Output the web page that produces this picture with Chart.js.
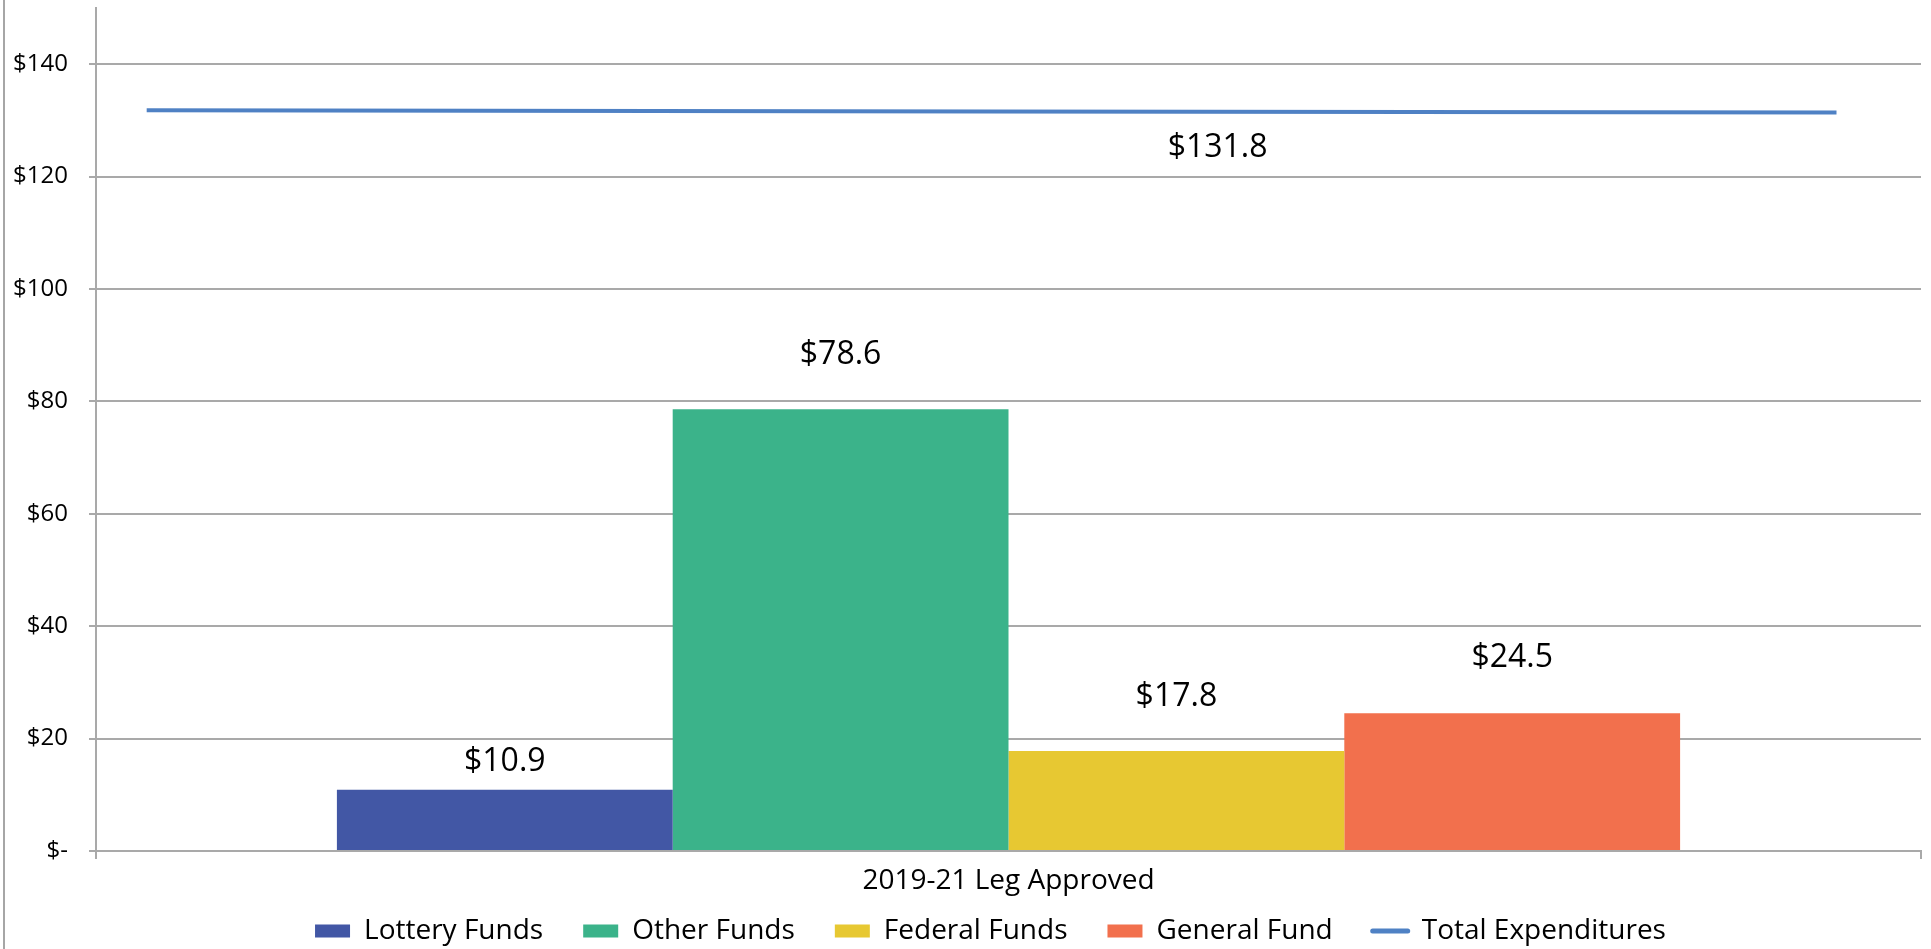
<!DOCTYPE html>
<html>
<head>
<meta charset="utf-8">
<title>2019-21 Leg Approved</title>
<script src="https://cdn.jsdelivr.net/npm/chart.js@4.4.1/dist/chart.umd.min.js"></script>
<style>
    html, body { margin: 0; padding: 0; background: #ffffff; }
    #wrap { position: relative; width: 1931px; height: 949px; overflow: hidden; }
    #frame { position: absolute; left: 3px; top: 0; width: 2px; height: 949px; background: #a6a6a6; }
    #fundChart { position: absolute; left: 0; top: 6px; }
</style>
</head>
<body>
<div id="wrap">
    <div id="frame"></div>
    <canvas id="fundChart" width="1931" height="949"></canvas>
</div>
<script>
const categories = ['2019-21 Leg Approved'];
const fundNames = ['Lottery Funds', 'Other Funds', 'Federal Funds', 'General Fund'];
const fundValues = [10.9, 78.6, 17.8, 24.5];
const fundColors = ['#4257a5', '#3bb38a', '#e7c832', '#f2704d'];

const totalName = 'Total Expenditures';
const totalSteps = [0, 1, 2];
const totalValues = [131.8, 131.6, 131.4];
const totalColor = '#4f81c4';

const yTicks = [0, 20, 40, 60, 80, 100, 120, 140];

const gridColor = '#a9a9a9';
const fontFamily = '"Open Sans", "DejaVu Sans", sans-serif';

function money(v) {
    return v === 0 ? '$-' : '$' + v;
}

// value labels drawn on top of the bars and next to the total line
const valueLabels = {
    id: 'valueLabels',
    afterDatasetsDraw(chart, args, opts) {
        const ctx = chart.ctx;
        ctx.save();
        ctx.font = opts.size + 'px ' + fontFamily;
        ctx.textAlign = 'center';
        ctx.textBaseline = 'middle';
        chart.data.datasets.forEach((ds, i) => {
            const meta = chart.getDatasetMeta(i);
            if (ds.type === 'line') {
                const el = meta.data[1];
                const text = '$' + ds.data[0].y.toFixed(1);
                ctx.fillStyle = '#000';
                ctx.fillText(text, el.x + opts.lineDx, el.y + opts.lineDy);
                return;
            }
            const el = meta.data[0];
            const text = '$' + ds.data[0].toFixed(1);
            const x = el.x;
            const y = el.y - opts.barOffsets[i];
            const w = ctx.measureText(text).width + 12;
            ctx.fillStyle = '#ffffff';
            ctx.fillRect(x - w / 2, y - 20, w, 40);
            ctx.fillStyle = '#000';
            ctx.fillText(text, x, y);
        });
        ctx.restore();
    }
};

const datasets = fundNames.map((name, i) => ({
    type: 'bar',
    indexAxis: 'x',
    label: name,
    data: [fundValues[i]],
    backgroundColor: fundColors[i],
    borderWidth: 0,
    barPercentage: 1,
    categoryPercentage: 0.736,
    xAxisID: 'x',
    yAxisID: 'y',
    order: 2
}));

datasets.push({
    type: 'line',
    indexAxis: 'x',
    label: totalName,
    data: totalSteps.map((s, i) => ({ x: s, y: totalValues[i] })),
    borderColor: totalColor,
    backgroundColor: totalColor,
    borderWidth: 4,
    pointRadius: 0,
    tension: 0,
    xAxisID: 'x2',
    yAxisID: 'y',
    order: 1
});

// tick labels may sit outside their scale box
const noLabelClip = scale => {
    scale._computeLabelArea = () => undefined;
};

// chart-level indexAxis 'y' keeps the line's own x scale out of the bar grouping count;
// every dataset sets indexAxis 'x' itself, so the bars stay vertical
new Chart(document.getElementById('fundChart'), {
    type: 'bar',
    data: {
        labels: categories,
        datasets: datasets
    },
    plugins: [valueLabels],
    options: {
        indexAxis: 'y',
        responsive: false,
        animation: false,
        layout: {
            padding: { left: 60, right: 10, top: 2, bottom: 0 }
        },
        scales: {
            x: {
                type: 'category',
                position: 'bottom',
                offset: true,
                afterFit: scale => {
                    scale.height = 26;
                    noLabelClip(scale);
                },
                border: { display: true, color: gridColor, width: 2 },
                grid: {
                    display: true,
                    offset: true,
                    drawOnChartArea: false,
                    color: gridColor,
                    lineWidth: 2,
                    tickLength: 8
                },
                ticks: {
                    color: '#000',
                    padding: 5,
                    font: { family: fontFamily, size: 28 }
                }
            },
            x2: {
                type: 'linear',
                position: 'bottom',
                display: false,
                offset: false,
                min: -0.06,
                max: 2.1
            },
            y: {
                type: 'linear',
                position: 'left',
                offset: false,
                min: 0,
                max: 150,
                afterBuildTicks: scale => {
                    scale.ticks = yTicks.map(v => ({ value: v }));
                },
                afterFit: scale => {
                    scale.width = 36;
                    scale.paddingTop = 0;
                    scale.paddingBottom = 0;
                    noLabelClip(scale);
                },
                border: { display: true, color: gridColor, width: 2 },
                grid: {
                    offset: false,
                    color: gridColor,
                    lineWidth: 2,
                    tickLength: 7
                },
                ticks: {
                    color: '#000',
                    padding: 21,
                    font: { family: fontFamily, size: 24 },
                    callback: value => money(value)
                }
            }
        },
        plugins: {
            legend: {
                position: 'bottom',
                labels: {
                    usePointStyle: true,
                    pointStyleWidth: 35,
                    boxWidth: 35,
                    boxHeight: 13,
                    padding: 40,
                    color: '#000',
                    font: { family: fontFamily, size: 28 },
                    generateLabels: chart => chart.data.datasets.map((ds, i) => {
                        const isLine = ds.type === 'line';
                        return {
                            text: ds.label,
                            fillStyle: isLine ? ds.borderColor : ds.backgroundColor,
                            strokeStyle: isLine ? ds.borderColor : ds.backgroundColor,
                            lineWidth: isLine ? 5 : 0,
                            lineCap: 'round',
                            pointStyle: isLine ? 'line' : 'rect',
                            hidden: false,
                            fontColor: '#000',
                            datasetIndex: i
                        };
                    })
                }
            },
            tooltip: { enabled: false },
            valueLabels: {
                size: 32,
                barOffsets: [28, 54, 54, 55],
                lineDx: 226,
                lineDy: 36
            }
        }
    }
});
</script>
</body>
</html>
